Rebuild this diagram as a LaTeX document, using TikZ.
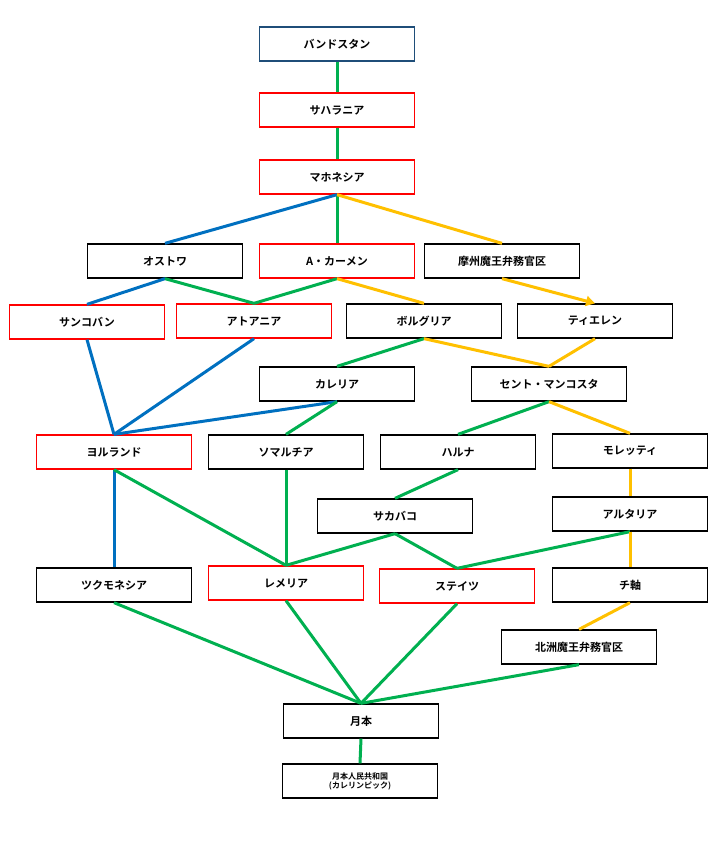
\documentclass[tikz,border=0pt]{standalone}
\usepackage{fontspec}
\setmainfont{Noto Sans CJK JP}[BoldFont={Noto Sans CJK JP Bold}]
\usetikzlibrary{arrows.meta}
\definecolor{gr}{RGB}{0,176,80}
\definecolor{bl}{RGB}{0,112,192}
\definecolor{ye}{RGB}{255,192,0}
\definecolor{rd}{RGB}{255,0,0}
\definecolor{nv}{RGB}{31,78,121}
\begin{document}
\begin{tikzpicture}[x=1pt,y=-1pt,
 box/.style={draw=black,line width=1.3pt,minimum width=155pt,minimum height=34pt,inner sep=0pt,font=\bfseries\fontsize{11}{12}\selectfont,fill=white},
 rb/.style={box,draw=rd},
 lg/.style={draw=gr,line width=3pt},
 lb/.style={draw=bl,line width=3pt},
 ly/.style={draw=ye,line width=3pt}]
\useasboundingbox (0,0) rectangle (720,841);
\node[box,draw=nv] (band) at (337,44) {バンドスタン};
\node[rb] (saha) at (337,110) {サハラニア};
\node[rb] (maho) at (337,177) {マホネシア};
\node[box] (osto) at (165,261) {オストワ};
\node[rb] (acar) at (337,261) {A・カーメン};
\node[box] (mash) at (502,261) {摩州魔王弁務官区};
\node[rb] (sank) at (87,322) {サンコバン};
\node[rb] (atoa) at (254,321) {アトアニア};
\node[box] (boru) at (424,321) {ボルグリア};
\node[box] (tier) at (595,321) {ティエレン};
\node[box] (kare) at (337,384) {カレリア};
\node[box] (sent) at (549,384) {セント・マンコスタ};
\node[rb] (yoru) at (114,452) {ヨルランド};
\node[box] (soma) at (286,452) {ソマルチア};
\node[box] (haru) at (458,452) {ハルナ};
\node[box] (more) at (630,451) {モレッティ};
\node[box] (saka) at (395,516) {サカバコ};
\node[box] (aru) at (630,514) {アルタリア};
\node[box] (tsuk) at (114,585) {ツクモネシア};
\node[rb] (reme) at (286,583) {レメリア};
\node[rb] (stei) at (457,586) {ステイツ};
\node[box] (chi) at (630,585) {チ軸};
\node[box] (hoku) at (579,647) {北洲魔王弁務官区};
\node[box] (gets) at (361,721) {月本};
\node[box,font=\bfseries\fontsize{8}{9}\selectfont,align=center] (jin) at (360,781) {月本人民共和国\\(カレリンピック)};
\draw[lg] (band.south)--(saha.north);
\draw[lg] (saha.south)--(maho.north);
\draw[lg] (maho.south)--(acar.north);
\draw[lb] (maho.south)--(osto.north);
\draw[ly] (maho.south)--(mash.north);
\draw[lb] (osto.south)--(sank.north);
\draw[lg] (osto.south)--(atoa.north);
\draw[lg] (acar.south)--(atoa.north);
\draw[ly] (acar.south)--(boru.north);
\draw[ly,-{Triangle[length=9pt,width=10pt]}] (mash.south)--(tier.north);
\draw[lg] (boru.south)--(kare.north);
\draw[ly] (boru.south)--(sent.north);
\draw[ly] (tier.south)--(sent.north);
\draw[lb] (sank.south)--(yoru.north);
\draw[lb] (atoa.south)--(yoru.north);
\draw[lb] (kare.south)--(yoru.north);
\draw[lg] (kare.south)--(soma.north);
\draw[lg] (sent.south)--(haru.north);
\draw[ly] (sent.south)--(more.north);
\draw[lb] (yoru.south)--(tsuk.north);
\draw[lg] (yoru.south)--(reme.north);
\draw[lg] (soma.south)--(reme.north);
\draw[lg] (haru.south)--(saka.north);
\draw[ly] (more.south)--(aru.north);
\draw[lg] (saka.south)--(reme.north);
\draw[lg] (saka.south)--(stei.north);
\draw[lg] (aru.south)--(stei.north);
\draw[ly] (aru.south)--(chi.north);
\draw[ly] (chi.south)--(hoku.north);
\draw[lg] (tsuk.south)--(gets.north);
\draw[lg] (reme.south)--(gets.north);
\draw[lg] (stei.south)--(gets.north);
\draw[lg] (hoku.south)--(gets.north);
\draw[lg] (gets.south)--(jin.north);
\end{tikzpicture}
\end{document}
